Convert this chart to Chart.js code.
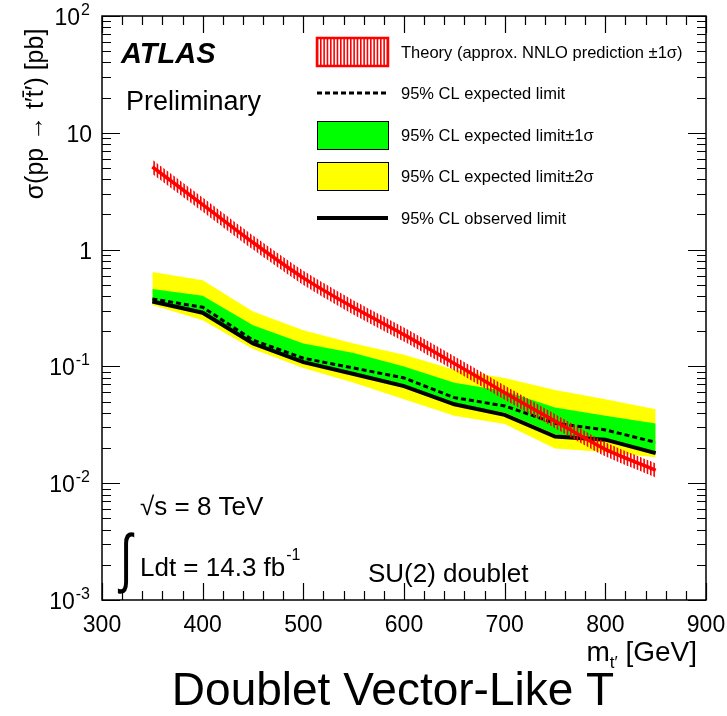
<!DOCTYPE html>
<html>
<head>
<meta charset="utf-8">
<script src="https://cdn.jsdelivr.net/npm/chart.js@4/dist/chart.umd.min.js"></script>
<style>
  html, body { margin: 0; padding: 0; background: #fff; }
  #wrap { width: 727px; height: 716px; }
</style>
</head>
<body>
<div id="wrap"><canvas id="chart" width="727" height="716"></canvas></div>
<script>
// mass points [GeV]
const masses = [350, 400, 450, 500, 550, 600, 650, 700, 750, 800, 850];

// cross sections [pb]
const theory     = [5.1, 2.43, 1.15, 0.573, 0.319, 0.187, 0.106, 0.0596, 0.034, 0.0195, 0.0129];
const theoryUp   = [5.87, 2.79, 1.32, 0.659, 0.367, 0.215, 0.122, 0.0685, 0.0391, 0.0224, 0.0148];
const theoryDown = [4.43, 2.11, 1.00, 0.498, 0.277, 0.163, 0.0922, 0.0518, 0.0296, 0.0170, 0.0112];

const expected   = [0.378, 0.321, 0.168, 0.1175, 0.0968, 0.0797, 0.054, 0.0459, 0.0326, 0.0286, 0.0224];
const observed   = [0.359, 0.288, 0.157, 0.1088, 0.0861, 0.0678, 0.0474, 0.0385, 0.0251, 0.0236, 0.0181];
const plus1s     = [0.459, 0.403, 0.225, 0.157, 0.130, 0.100, 0.0723, 0.0615, 0.0444, 0.0378, 0.0324];
const minus1s    = [0.350, 0.288, 0.157, 0.1117, 0.0879, 0.070, 0.0474, 0.0403, 0.0262, 0.0232, 0.0178];
const plus2s     = [0.643, 0.547, 0.295, 0.204, 0.157, 0.126, 0.0937, 0.0797, 0.0627, 0.0523, 0.0429];
const minus2s    = [0.336, 0.248, 0.141, 0.0968, 0.0723, 0.0523, 0.0378, 0.0321, 0.0198, 0.0185, 0.0167];

const xTicks = [300, 400, 500, 600, 700, 800, 900];
const yExponents = [-3, -2, -1, 0, 1, 2];

const legendLabels = [
  'Theory (approx. NNLO prediction \u00b11\u03c3)',
  '95% CL expected limit',
  '95% CL expected limit\u00b11\u03c3',
  '95% CL expected limit\u00b12\u03c3',
  '95% CL observed limit'
];

const FONT = '"Liberation Sans", Arial, Helvetica, sans-serif';

const pts = vals => vals.map((v, i) => ({ x: masses[i], y: v }));

// vertical hatch for the theory band
function hatch() {
  const c = document.createElement('canvas');
  c.width = 10; c.height = 4;
  const g = c.getContext('2d');
  g.fillStyle = '#ff0000';
  g.fillRect(0, 0, 1.6, 4);
  g.fillRect(3.33, 0, 1.6, 4);
  g.fillRect(6.67, 0, 1.6, 4);
  return c;
}
const hatchPattern = document.getElementById('chart').getContext('2d').createPattern(hatch(), 'repeat');

function band(data, fill, color, order) {
  return {
    data: pts(data), fill: fill, backgroundColor: color,
    borderColor: 'rgba(0,0,0,0)', borderWidth: 0, pointRadius: 0, order: order
  };
}

const frame = {
  id: 'frame',
  beforeDraw(chart) {
    const ctx = chart.ctx;
    ctx.save();
    ctx.fillStyle = '#fff';
    ctx.fillRect(0, 0, chart.width, chart.height);
    ctx.restore();
  },
  afterDraw(chart) {
    const { ctx, chartArea: a, scales } = chart;
    const xs = scales.x, ys = scales.y;
    ctx.save();
    ctx.strokeStyle = '#000';
    ctx.lineWidth = 1.5;
    ctx.strokeRect(a.left, a.top, a.right - a.left, a.bottom - a.top);

    // y ticks, both sides
    ctx.lineWidth = 1.2;
    ctx.beginPath();
    yExponents.forEach(e => {
      for (let k = 1; k <= 9; k++) {
        if (e === 2 && k > 1) break;
        const py = Math.round(ys.getPixelForValue(k * Math.pow(10, e))) + 0.5;
        const len = k === 1 ? 18 : 9;
        ctx.moveTo(a.left, py); ctx.lineTo(a.left + len, py);
        ctx.moveTo(a.right, py); ctx.lineTo(a.right - len, py);
      }
    });
    // x ticks, top and bottom
    for (let m = 300; m <= 900; m += 20) {
      const px = Math.round(xs.getPixelForValue(m)) + 0.5;
      const len = m % 100 === 0 ? 17 : 9;
      ctx.moveTo(px, a.bottom); ctx.lineTo(px, a.bottom - len);
      ctx.moveTo(px, a.top); ctx.lineTo(px, a.top + len);
    }
    ctx.stroke();

    ctx.fillStyle = '#000';
    // x tick labels
    ctx.font = '23px ' + FONT;
    ctx.textAlign = 'center';
    ctx.textBaseline = 'alphabetic';
    xTicks.forEach(m => ctx.fillText(String(m), xs.getPixelForValue(m), 632));

    // y tick labels
    yExponents.forEach(e => {
      const py = ys.getPixelForValue(Math.pow(10, e));
      if (e === 0 || e === 1) {
        ctx.font = '23px ' + FONT;
        ctx.textAlign = 'right';
        ctx.fillText(e === 0 ? '1' : '10', 92, py + 9);
      } else {
        ctx.font = '16px ' + FONT;
        ctx.textAlign = 'right';
        const sup = e < 0 ? '-' + (-e) : String(e);
        ctx.fillText(sup, 90, py - 1);
        const w = ctx.measureText(sup).width;
        ctx.font = '23px ' + FONT;
        ctx.fillText('10', 90 - w - 1, py + 9);
      }
    });

    // axis titles
    ctx.font = '28px ' + FONT;
    ctx.textAlign = 'right';
    ctx.fillText(' [GeV]', 697, 661);
    const gw = ctx.measureText(' [GeV]').width;
    ctx.font = '17px ' + FONT;
    ctx.fillText('t\u2032', 697 - gw, 668);
    const tw = ctx.measureText('t\u2032').width;
    ctx.font = '28px ' + FONT;
    ctx.fillText('m', 697 - gw - tw, 661);

    ctx.save();
    ctx.translate(43, 114);
    ctx.rotate(-Math.PI / 2);
    ctx.textAlign = 'center';
    ctx.font = '25px ' + FONT;
    ctx.fillText('\u03c3(pp \u2192 t\u2032t\u0304\u2032) [pb]', 0, 0);
    ctx.restore();

    ctx.font = '46px ' + FONT;
    ctx.textAlign = 'center';
    ctx.fillText('Doublet Vector-Like T', 393, 705);

    // labels inside the plot
    ctx.textAlign = 'left';
    ctx.font = 'italic bold 29px ' + FONT;
    ctx.fillText('ATLAS', 121, 63);
    ctx.font = '27px ' + FONT;
    ctx.fillText('Preliminary', 126, 110);

    ctx.font = '26px ' + FONT;
    ctx.fillText('\u221as = 8 TeV', 140, 515);
    ctx.fillText('Ldt = 14.3 fb', 140, 576);
    const lw = ctx.measureText('Ldt = 14.3 fb').width;
    ctx.font = '16px ' + FONT;
    ctx.fillText('-1', 140 + lw + 1, 560);
    ctx.save();
    ctx.translate(120, 580);
    ctx.scale(0.85, 1.25);
    ctx.font = '200 52px "DejaVu Sans", sans-serif';
    ctx.fillText('\u222b', 0, 0);
    ctx.restore();
    ctx.font = '26px ' + FONT;
    ctx.fillText('SU(2) doublet', 368, 582);

    // legend
    const x0 = 317, x1 = 388, tx = 401;
    const rows = [52, 93, 135, 176, 218];
    ctx.fillStyle = hatchPattern;
    ctx.fillRect(x0, rows[0] - 14, x1 - x0, 28);
    ctx.strokeStyle = '#ff0000';
    ctx.lineWidth = 2.5;
    ctx.strokeRect(x0, rows[0] - 14, x1 - x0, 28);

    ctx.strokeStyle = '#000';
    ctx.lineWidth = 3;
    ctx.setLineDash([5, 3]);
    ctx.beginPath(); ctx.moveTo(x0, rows[1]); ctx.lineTo(x1, rows[1]); ctx.stroke();
    ctx.setLineDash([]);

    ctx.lineWidth = 1;
    ctx.fillStyle = '#00ff00';
    ctx.fillRect(x0, rows[2] - 14, x1 - x0, 28);
    ctx.strokeRect(x0 + 0.5, rows[2] - 14 + 0.5, x1 - x0, 28);
    ctx.fillStyle = '#ffff00';
    ctx.fillRect(x0, rows[3] - 14, x1 - x0, 28);
    ctx.strokeRect(x0 + 0.5, rows[3] - 14 + 0.5, x1 - x0, 28);

    ctx.lineWidth = 4;
    ctx.beginPath(); ctx.moveTo(x0, rows[4]); ctx.lineTo(x1, rows[4]); ctx.stroke();

    ctx.fillStyle = '#000';
    ctx.font = '16.5px ' + FONT;
    ctx.textBaseline = 'middle';
    legendLabels.forEach((t, i) => ctx.fillText(t, tx, rows[i] + 1));
    ctx.restore();
  }
};

new Chart(document.getElementById('chart'), {
  type: 'line',
  data: {
    datasets: [
      band(plus2s, '+1', '#ffff00', 10),
      band(minus2s, false, 'rgba(0,0,0,0)', 9),
      band(plus1s, '+1', '#00ff00', 8),
      band(minus1s, false, 'rgba(0,0,0,0)', 7),
      {
        data: pts(expected), borderColor: '#000', borderWidth: 3,
        borderDash: [5, 3], pointRadius: 0, fill: false, order: 5
      },
      {
        data: pts(observed), borderColor: '#000', borderWidth: 4,
        pointRadius: 0, fill: false, order: 4
      },
      Object.assign(band(theoryUp, '+1', hatchPattern, 3), { tension: 0.2 }),
      Object.assign(band(theoryDown, false, 'rgba(0,0,0,0)', 2), { tension: 0.2 }),
      {
        data: pts(theory), borderColor: '#ff0000', borderWidth: 3.5,
        pointRadius: 0, fill: false, tension: 0.2, order: 1
      }
    ]
  },
  options: {
    responsive: false,
    animation: false,
    devicePixelRatio: 1,
    layout: { padding: { left: 102, right: 21, top: 16, bottom: 116 } },
    scales: {
      x: { type: 'linear', min: 300, max: 900, display: false },
      y: { type: 'logarithmic', min: 0.001, max: 100, display: false }
    },
    plugins: { legend: { display: false }, tooltip: { enabled: false } }
  },
  plugins: [frame]
});
</script>
</body>
</html>
